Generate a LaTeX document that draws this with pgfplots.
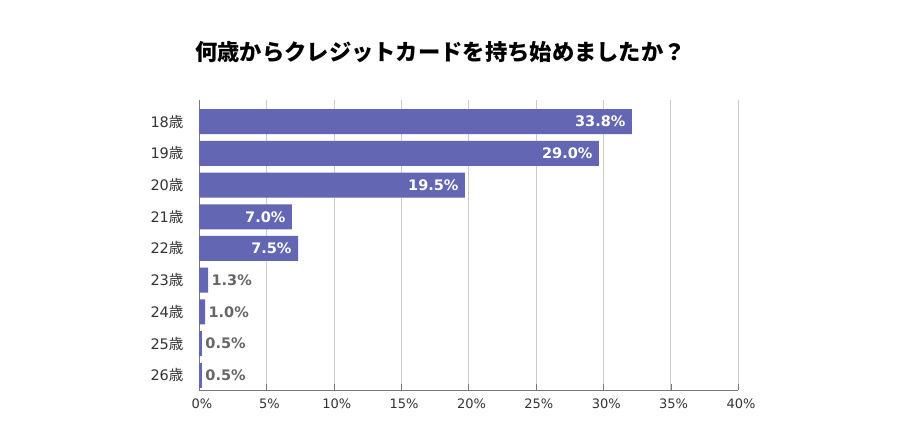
\documentclass[border=0pt]{standalone}
\usepackage{fontspec}
\usepackage{pgfplots}
\pgfplotsset{compat=1.18}
\setmainfont{DejaVu Sans}
\newfontfamily\cjk{Noto Sans CJK JP}
\definecolor{barblue}{RGB}{99,102,178}
\definecolor{gridgray}{RGB}{204,204,204}
\definecolor{axisgray}{RGB}{120,120,120}
\definecolor{labgray}{RGB}{102,102,102}
\definecolor{ticktext}{RGB}{51,51,51}

\begin{document}
\begin{tikzpicture}
\fill[white] (0,0) rectangle (900pt,430pt);
\path[use as bounding box] (0,0) rectangle (900pt,430pt);
\node[font=\cjk\bfseries\fontsize{22.3}{25}\selectfont] at (440.5pt,378pt)
  {何歳からクレジットカードを持ち始めましたか？};
\begin{axis}[
    at={(199pt,40pt)}, anchor=south west,
    scale only axis, width=539pt, height=290pt,
    xmin=0, xmax=40, ymin=-0.68, ymax=8.46,
    y dir=reverse,
    xbar, bar width=25pt, bar shift=0pt,
    axis x line*=bottom, axis y line*=left,
    axis line style={-, draw=axisgray},
    xmajorgrids, grid style={gridgray},
    xtick={0,5,...,40},
    xticklabels={0\%,5\%,10\%,15\%,20\%,25\%,30\%,35\%,40\%},
    xticklabel style={font=\fontsize{13}{15}\selectfont, text=ticktext, xshift=3pt, yshift=-5pt},
    ytick={0,...,8},
    yticklabels={18{\cjk 歳},19{\cjk 歳},20{\cjk 歳},21{\cjk 歳},22{\cjk 歳},
                 23{\cjk 歳},24{\cjk 歳},25{\cjk 歳},26{\cjk 歳}},
    yticklabel style={font=\fontsize{14.5}{16}\selectfont, text=ticktext, xshift=-12pt},
    ytick style={draw=none},
    xtick style={draw=axisgray},
    tick align=inside, major tick length=6pt,
    point meta=explicit symbolic,
    nodes near coords,
]
\addplot[fill=barblue, draw=none,
    every node near coord/.append style={anchor=east, text=white,
      font=\bfseries\fontsize{14.5}{16}\selectfont, xshift=-3pt}]
  coordinates {(32.13,0)[33.8\%] (29.68,1)[29.0\%] (19.74,2)[19.5\%]
               (6.90,3)[7.0\%] (7.35,4)[7.5\%]};
\addplot[fill=barblue, draw=none,
    every node near coord/.append style={anchor=west, text=labgray,
      font=\bfseries\fontsize{14.5}{16}\selectfont, xshift=0pt}]
  coordinates {(0.67,5)[1.3\%] (0.45,6)[1.0\%] (0.22,7)[0.5\%] (0.22,8)[0.5\%]};
\end{axis}
\end{tikzpicture}
\end{document}
